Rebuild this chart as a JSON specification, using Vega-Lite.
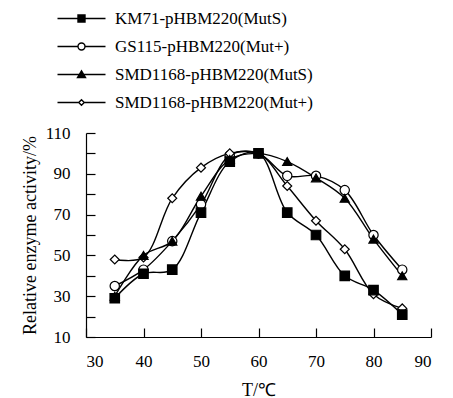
{
  "$schema": "https://vega.github.io/schema/vega-lite/v6.json",
  "width": 345,
  "height": 204,
  "autosize": {"type": "none"},
  "padding": {"left": 86, "top": 133, "right": 22, "bottom": 61},
  "background": "white",
  "config": {
    "view": {"stroke": null},
    "font": "Liberation Serif",
    "axis": {
      "grid": false,
      "domainColor": "black",
      "domainWidth": 1.2,
      "tickColor": "black",
      "tickWidth": 1.2,
      "tickSize": -9,
      "labelFont": "Liberation Serif",
      "labelFontSize": 17,
      "labelColor": "black",
      "titleFont": "Liberation Serif",
      "titleFontSize": 18,
      "titleFontWeight": "normal",
      "titleColor": "black"
    },
    "legend": {
      "orient": "none",
      "legendX": -13,
      "legendY": -123,
      "title": null,
      "labelFont": "Liberation Serif",
      "labelFontSize": 17,
      "labelColor": "black",
      "labelLimit": 400,
      "labelOffset": 25,
      "rowPadding": 10,
      "symbolSize": 100,
      "symbolStrokeWidth": 1.4
    }
  },
  "data": {
    "values": [
      {"strain": "GS115-pHBM220(Mut+)", "T": 35, "activity": 35},
      {"strain": "GS115-pHBM220(Mut+)", "T": 40, "activity": 43},
      {"strain": "GS115-pHBM220(Mut+)", "T": 45, "activity": 57},
      {"strain": "GS115-pHBM220(Mut+)", "T": 50, "activity": 75},
      {"strain": "GS115-pHBM220(Mut+)", "T": 55, "activity": 99},
      {"strain": "GS115-pHBM220(Mut+)", "T": 60, "activity": 100},
      {"strain": "GS115-pHBM220(Mut+)", "T": 65, "activity": 89},
      {"strain": "GS115-pHBM220(Mut+)", "T": 70, "activity": 89},
      {"strain": "GS115-pHBM220(Mut+)", "T": 75, "activity": 82},
      {"strain": "GS115-pHBM220(Mut+)", "T": 80, "activity": 60},
      {"strain": "GS115-pHBM220(Mut+)", "T": 85, "activity": 43},
      {"strain": "SMD1168-pHBM220(Mut+)", "T": 35, "activity": 48},
      {"strain": "SMD1168-pHBM220(Mut+)", "T": 40, "activity": 49},
      {"strain": "SMD1168-pHBM220(Mut+)", "T": 45, "activity": 78},
      {"strain": "SMD1168-pHBM220(Mut+)", "T": 50, "activity": 93},
      {"strain": "SMD1168-pHBM220(Mut+)", "T": 55, "activity": 100},
      {"strain": "SMD1168-pHBM220(Mut+)", "T": 60, "activity": 100},
      {"strain": "SMD1168-pHBM220(Mut+)", "T": 65, "activity": 84},
      {"strain": "SMD1168-pHBM220(Mut+)", "T": 70, "activity": 67},
      {"strain": "SMD1168-pHBM220(Mut+)", "T": 75, "activity": 53},
      {"strain": "SMD1168-pHBM220(Mut+)", "T": 80, "activity": 31},
      {"strain": "SMD1168-pHBM220(Mut+)", "T": 85, "activity": 24},
      {"strain": "SMD1168-pHBM220(MutS)", "T": 35, "activity": 30},
      {"strain": "SMD1168-pHBM220(MutS)", "T": 40, "activity": 50},
      {"strain": "SMD1168-pHBM220(MutS)", "T": 45, "activity": 57},
      {"strain": "SMD1168-pHBM220(MutS)", "T": 50, "activity": 79},
      {"strain": "SMD1168-pHBM220(MutS)", "T": 55, "activity": 97},
      {"strain": "SMD1168-pHBM220(MutS)", "T": 60, "activity": 100},
      {"strain": "SMD1168-pHBM220(MutS)", "T": 65, "activity": 96},
      {"strain": "SMD1168-pHBM220(MutS)", "T": 70, "activity": 88},
      {"strain": "SMD1168-pHBM220(MutS)", "T": 75, "activity": 78},
      {"strain": "SMD1168-pHBM220(MutS)", "T": 80, "activity": 58},
      {"strain": "SMD1168-pHBM220(MutS)", "T": 85, "activity": 40},
      {"strain": "KM71-pHBM220(MutS)", "T": 35, "activity": 29},
      {"strain": "KM71-pHBM220(MutS)", "T": 40, "activity": 41},
      {"strain": "KM71-pHBM220(MutS)", "T": 45, "activity": 43},
      {"strain": "KM71-pHBM220(MutS)", "T": 50, "activity": 71},
      {"strain": "KM71-pHBM220(MutS)", "T": 55, "activity": 96},
      {"strain": "KM71-pHBM220(MutS)", "T": 60, "activity": 100},
      {"strain": "KM71-pHBM220(MutS)", "T": 65, "activity": 71},
      {"strain": "KM71-pHBM220(MutS)", "T": 70, "activity": 60},
      {"strain": "KM71-pHBM220(MutS)", "T": 75, "activity": 40},
      {"strain": "KM71-pHBM220(MutS)", "T": 80, "activity": 33},
      {"strain": "KM71-pHBM220(MutS)", "T": 85, "activity": 21}
    ]
  },
  "encoding": {
    "x": {
      "field": "T",
      "type": "quantitative",
      "scale": {"domain": [30, 90], "nice": false, "zero": false},
      "axis": {
        "title": "T/℃",
        "values": [30, 40, 50, 60, 70, 80, 90],
        "labelPadding": 25,
        "titlePadding": 12
      }
    },
    "y": {
      "field": "activity",
      "type": "quantitative",
      "scale": {"domain": [10, 110], "nice": false, "zero": false},
      "axis": {
        "title": "Relative enzyme activity/%",
        "values": [10, 20, 30, 40, 50, 60, 70, 80, 90, 100, 110],
        "labelExpr": "(datum.value - 10) % 20 == 0 ? datum.label : ''",
        "labelPadding": 25,
        "titlePadding": 6
      }
    }
  },
  "layer": [
    {
      "mark": {"type": "line", "interpolate": "catmull-rom", "color": "black", "strokeWidth": 1.4},
      "encoding": {"detail": {"field": "strain"}}
    },
    {
      "mark": {"type": "point", "stroke": "black", "strokeWidth": 1.2, "opacity": 1},
      "encoding": {
        "shape": {
          "field": "strain",
          "type": "nominal",
          "scale": {
            "domain": ["KM71-pHBM220(MutS)", "GS115-pHBM220(Mut+)", "SMD1168-pHBM220(MutS)", "SMD1168-pHBM220(Mut+)"],
            "range": ["square", "circle", "triangle-up", "diamond"]
          },
          "legend": null
        },
        "fill": {
          "field": "strain",
          "type": "nominal",
          "scale": {
            "domain": ["KM71-pHBM220(MutS)", "GS115-pHBM220(Mut+)", "SMD1168-pHBM220(MutS)", "SMD1168-pHBM220(Mut+)"],
            "range": ["black", "white", "black", "white"]
          },
          "legend": null
        },
        "size": {
          "field": "strain",
          "type": "nominal",
          "scale": {
            "domain": ["KM71-pHBM220(MutS)", "GS115-pHBM220(Mut+)", "SMD1168-pHBM220(MutS)", "SMD1168-pHBM220(Mut+)"],
            "range": [90, 80, 80, 40]
          },
          "legend": null
        }
      }
    },
    {
      "transform": [{"filter": "datum.T > 1000"}],
      "mark": {"type": "point", "strokeWidth": 1.4, "opacity": 1},
      "encoding": {
        "shape": {
          "field": "strain",
          "type": "nominal",
          "scale": {
            "domain": ["KM71-pHBM220(MutS)", "GS115-pHBM220(Mut+)", "SMD1168-pHBM220(MutS)", "SMD1168-pHBM220(Mut+)"],
            "range": [
              "M-4.8,0H4.8M-0.7,-0.7H0.7V0.7H-0.7Z",
              "M-4.8,0H-0.7M0.7,0H4.8M-0.7,0A0.7,0.7 0 1,0 0.7,0A0.7,0.7 0 1,0 -0.7,0Z",
              "M-4.8,0H4.8M0,-0.75L0.8,0.6H-0.8Z",
              "M-4.8,0H-0.55M0.55,0H4.8M0,-0.55L0.55,0L0,0.55L-0.55,0Z"
            ]
          }
        },
        "fill": {
          "field": "strain",
          "type": "nominal",
          "scale": {
            "domain": ["KM71-pHBM220(MutS)", "GS115-pHBM220(Mut+)", "SMD1168-pHBM220(MutS)", "SMD1168-pHBM220(Mut+)"],
            "range": ["black", "white", "black", "white"]
          }
        },
        "stroke": {
          "field": "strain",
          "type": "nominal",
          "scale": {
            "domain": ["KM71-pHBM220(MutS)", "GS115-pHBM220(Mut+)", "SMD1168-pHBM220(MutS)", "SMD1168-pHBM220(Mut+)"],
            "range": ["black", "black", "black", "black"]
          }
        }
      }
    }
  ],
  "resolve": {
    "scale": {"shape": "independent", "fill": "independent", "size": "independent", "stroke": "independent"},
    "legend": {"shape": "independent", "fill": "independent", "stroke": "independent"}
  }
}
